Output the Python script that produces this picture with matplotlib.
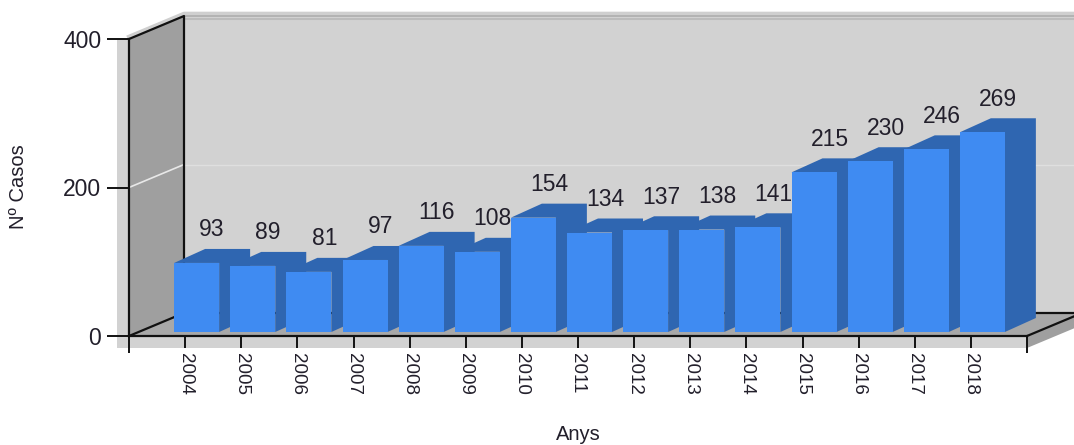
# plot.py
# Casos per any, fake 3D column chart drawn on a normal 2D axes

import matplotlib
matplotlib.use("Agg")
import matplotlib.pyplot as plt

plt.rcParams["font.family"] = ["Liberation Sans", "DejaVu Sans"]

years = [2004, 2005, 2006, 2007, 2008, 2009, 2010, 2011, 2012, 2013, 2014, 2015, 2016, 2017, 2018]
cases = [93, 89, 81, 97, 116, 108, 154, 134, 137, 138, 141, 215, 230, 246, 269]
y_ticks = [0, 200, 400]

WIDTH, HEIGHT = 1074, 445
LEFT, RIGHT, TOP, BOTTOM = 129, 1027, 39, 336  # front plane, pixels

XMIN, XMAX, YMAX = 2003, 2019, 400
ux = (RIGHT - LEFT) / (XMAX - XMIN)  # pixels per year
uy = (BOTTOM - TOP) / YMAX  # pixels per case

# depth of the box and of each column, in data units
box_dx, box_dy = 55 / ux, 23 / uy
bar_dx, bar_dy = 31 / ux, 14 / uy
bar_shift, bar_base, bar_w = 11.5 / ux, 4 / uy, 45 / ux

TEXT = "#221f2b"
WALL = "#d2d2d2"
SIDE = "#9f9f9f"
FRONT = "#3f8bf2"
DARK = "#2f66b1"

fig = plt.figure(figsize=(WIDTH / 100, HEIGHT / 100), dpi=100)
ax = fig.add_axes([LEFT / WIDTH, 1 - BOTTOM / HEIGHT, (RIGHT - LEFT) / WIDTH, (BOTTOM - TOP) / HEIGHT])
ax.set_xlim(XMIN, XMAX)
ax.set_ylim(0, YMAX)
ax.patch.set_visible(False)

far = XMAX + 2  # runs off the right side of the picture

# shadow behind the box
ax.fill([XMIN - 12 / ux, XMIN, XMIN, XMAX, XMAX, XMIN - 12 / ux],
        [YMAX, YMAX, 0, 0, -12 / uy, -12 / uy], color=WALL, lw=0, clip_on=False, zorder=1)

# back wall, left wall, floor
ax.fill([XMIN + box_dx, far, far, XMIN + box_dx],
        [box_dy, box_dy, YMAX + box_dy, YMAX + box_dy], color=WALL, lw=0, clip_on=False, zorder=1)
ax.fill([XMIN, XMIN + box_dx, XMIN + box_dx, XMIN],
        [0, box_dy, YMAX + box_dy, YMAX], color=SIDE, lw=0, clip_on=False, zorder=1)
ax.fill([XMIN, XMIN + box_dx, far, XMAX],
        [0, box_dy, box_dy, 0], color="#a8a8a8", lw=0, clip_on=False, zorder=1)
ax.fill([XMAX, XMAX + box_dx, XMAX + box_dx, XMAX],
        [-12 / uy, box_dy - 12 / uy, box_dy, 0], color=SIDE, lw=0, clip_on=False, zorder=1)

# faint band along the top of the walls
ax.plot([XMIN, XMIN + box_dx, far], [YMAX + 3, YMAX + box_dy + 3, YMAX + box_dy + 3],
        color="#cfcfcf", lw=3, clip_on=False, zorder=1.5)
ax.plot([XMIN + box_dx, far], [YMAX + box_dy, YMAX + box_dy],
        color="#adadad", lw=1.2, clip_on=False, zorder=1.6)
ax.plot([XMIN + box_dx, far], [YMAX + box_dy - 4, YMAX + box_dy - 4],
        color="#bcbcbc", lw=1.5, clip_on=False, zorder=1.6)

# gridline at 200
ax.plot([XMIN, XMIN + box_dx], [200, 200 + box_dy], color="#e8e8e8", lw=1.2, clip_on=False, zorder=2)
ax.plot([XMIN + box_dx, far], [200 + box_dy, 200 + box_dy], color="#dfdfdf", lw=1, clip_on=False, zorder=2)

# box edges
edge = dict(color="#111111", lw=1.6, clip_on=False, zorder=2.5)
ax.plot([XMIN, XMIN + box_dx, XMIN + box_dx], [YMAX, YMAX + box_dy, box_dy], **edge)
ax.plot([XMIN, XMIN + box_dx, far], [0, box_dy, box_dy], **edge)
ax.plot([XMAX, XMAX + box_dx], [0, box_dy], **edge)

# columns, left to right so each front covers the previous side
for i, (year, value) in enumerate(zip(years, cases)):
    x0 = year + bar_shift - bar_w / 2
    x1 = x0 + bar_w
    top = bar_base + value
    ax.fill([x0, x0 + bar_dx, x1 + bar_dx, x1 + bar_dx, x1, x1],
            [top, top + bar_dy, top + bar_dy, bar_base + bar_dy, bar_base, top],
            color=DARK, lw=0, clip_on=False, zorder=3 + i * 0.01)
    ax.bar(year + bar_shift, value, width=bar_w, bottom=bar_base, color=FRONT, lw=0, zorder=3 + i * 0.01 + 0.005)
    ax.annotate(str(value), xy=(year + bar_shift, top), xytext=(15.5 * 0.72, 33 * 0.72),
                textcoords="offset points", ha="center", va="center",
                fontsize=16.5, color=TEXT, zorder=6, annotation_clip=False)

for side in ["top", "right"]:
    ax.spines[side].set_visible(False)
for side in ["left", "bottom"]:
    ax.spines[side].set_linewidth(1.6)
    ax.spines[side].set_color("#111111")
    ax.spines[side].set_zorder(5)

ax.set_yticks(y_ticks)
ax.set_yticklabels([str(v) for v in y_ticks], fontsize=16.5, color=TEXT)
ax.tick_params(axis="y", length=16, width=1.4, color="#111111", pad=4)

ax.set_xticks(years)
ax.set_xticklabels([str(y) for y in years], rotation=270, fontsize=13.5, color=TEXT)
ax.tick_params(axis="x", length=8.6, width=1.4, color="#111111", pad=3.5)
ax.set_xticks([XMIN, XMAX], minor=True)
ax.tick_params(axis="x", which="minor", length=12.2, width=1.4, color="#111111")

fig.text(578 / WIDTH, 1 - 435 / HEIGHT, "Anys", ha="center", va="center", fontsize=14.5, color=TEXT)
fig.text(18 / WIDTH, 1 - 187 / HEIGHT, "Nº Casos", rotation=90, ha="center", va="center", fontsize=14.5, color=TEXT)

fig.savefig("out.png", dpi=100)
